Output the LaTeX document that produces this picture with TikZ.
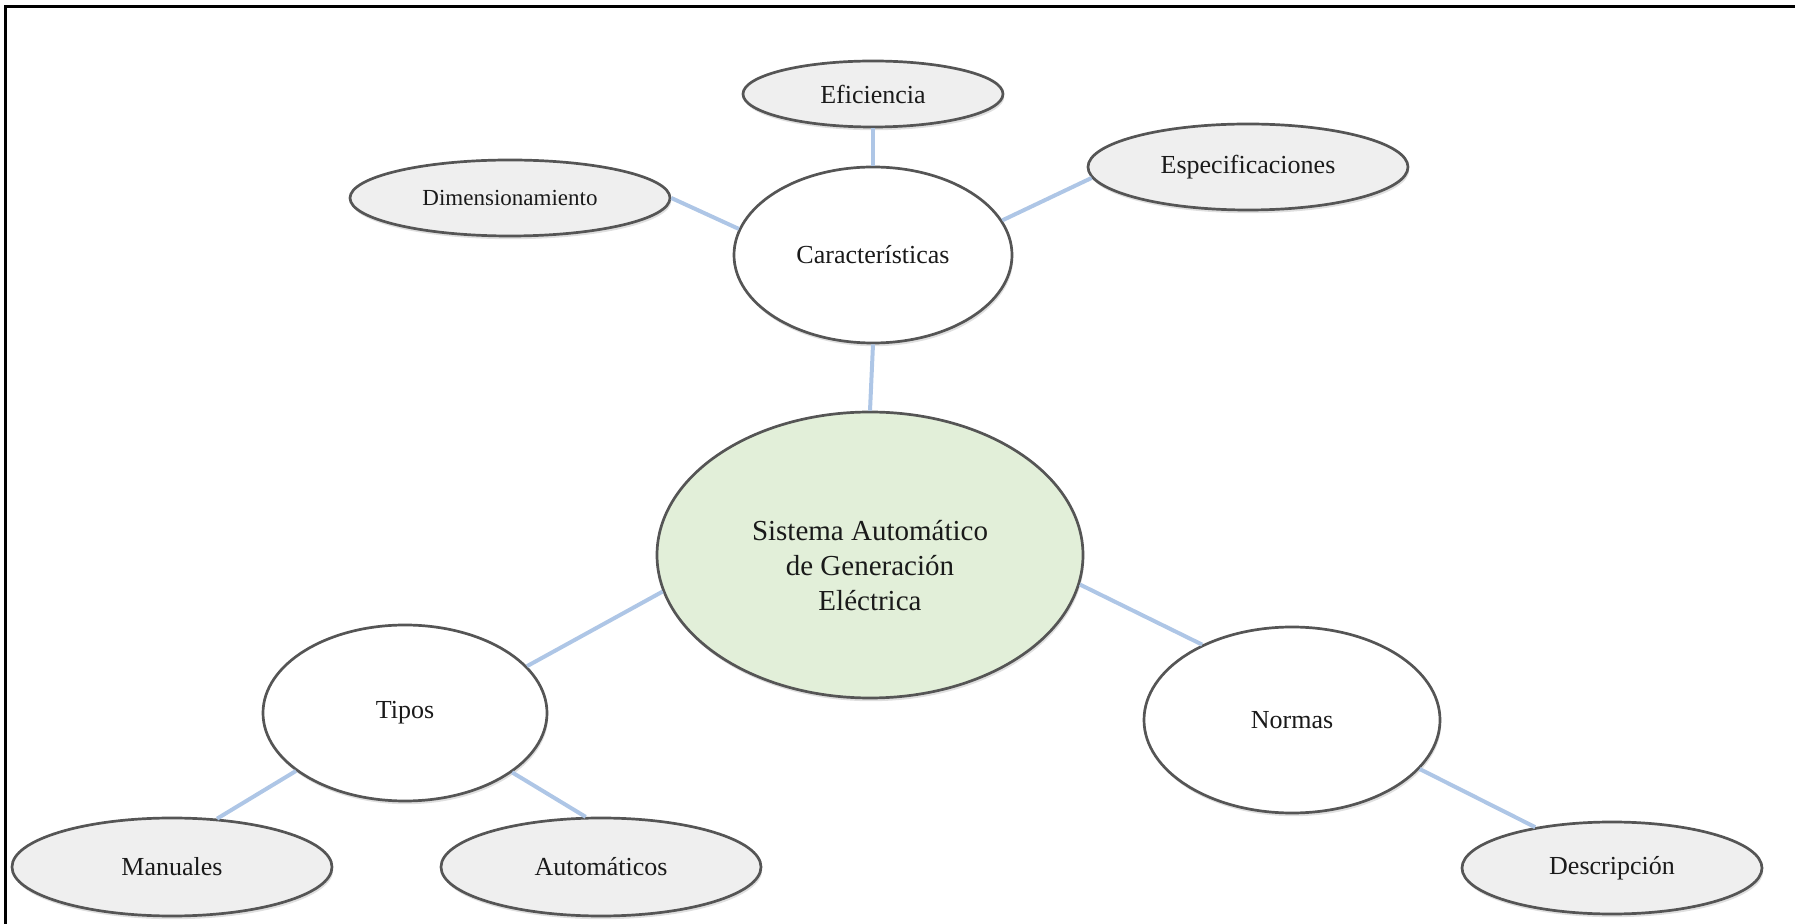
\documentclass[tikz,border=0pt]{standalone}
\usepackage{fontspec}
\setmainfont{Liberation Serif}
\usetikzlibrary{shapes.geometric,shadows}
\definecolor{linkblue}{HTML}{AEC6E6}
\definecolor{rimgray}{HTML}{555555}
\definecolor{leafgray}{HTML}{EFEFEF}
\definecolor{coregreen}{HTML}{E2EFD9}
\definecolor{inkgray}{HTML}{1A1A1A}
\begin{document}
\begin{tikzpicture}[x=0.5pt,y=-0.5pt,
  bubble/.style={ellipse,draw=rimgray,line width=1.35pt,inner sep=0pt,
    align=center,text=inkgray,font=\fontsize{13}{16}\selectfont,
    drop shadow={opacity=0.25,shadow xshift=0.6pt,shadow yshift=-1.6pt}},
  leaf/.style={bubble,fill=leafgray},
  branch/.style={bubble,fill=white},
  core/.style={bubble,fill=coregreen,font=\fontsize{14.5}{17.5}\selectfont},
  link/.style={draw=linkblue,line width=2pt},
  frameline/.style={line width=1.5pt,black}]
\useasboundingbox (0,0) rectangle (1795,924);
% frame: top and left edges only
\coordinate (ftl) at (5,7);
\coordinate (ftr) at (1795,7);
\coordinate (fbl) at (5,924);
\draw[frameline] (ftr) -- (ftl) -- (fbl);

% nodes
\node[leaf,minimum width=130pt,minimum height=33pt] (eff) at (873,94) {Eficiencia};
\node[leaf,minimum width=160pt,minimum height=38pt,font=\fontsize{11.5}{14}\selectfont] (dim) at (510,198) {Dimensionamiento};
\node[leaf,minimum width=160pt,minimum height=43pt] (esp) at (1248,167) {Especificaciones};
\node[branch,minimum width=139pt,minimum height=88pt] (car) at (873,255) {Características};
% the title block sits a little below the centre of the ellipse
\node[core,minimum width=213pt,minimum height=143pt] (sys) at (870,555)
  {\raisebox{-7pt}[\height][\depth]{\begin{tabular}{@{}c@{}}Sistema Automático\\de Generación\\Eléctrica\end{tabular}}};
\node[branch,minimum width=142pt,minimum height=88pt] (tip) at (405,713) {Tipos};
\node[leaf,minimum width=160pt,minimum height=49pt] (man) at (172,867) {Manuales};
\node[leaf,minimum width=160pt,minimum height=49pt] (aut) at (601,867) {Automáticos};
\node[branch,minimum width=148pt,minimum height=93pt] (nor) at (1292,720) {Normas};
\node[leaf,minimum width=150pt,minimum height=46pt] (des) at (1612,868) {Descripción};

% connectors
\draw[link] (eff.south) -- (car.north);
\draw[link] (dim.east) -- (car.169);
\draw[link] (esp.184) -- (car.15);
\draw[link] (car.south) -- (sys.north);
\draw[link] (sys.190) -- (tip.21);
\draw[link] (sys.352) -- (nor.140);
\draw[link] (tip.208) -- (man.47);
\draw[link] (tip.331) -- (aut.107);
\draw[link] (nor.339) -- (des.152);
\end{tikzpicture}
\end{document}
